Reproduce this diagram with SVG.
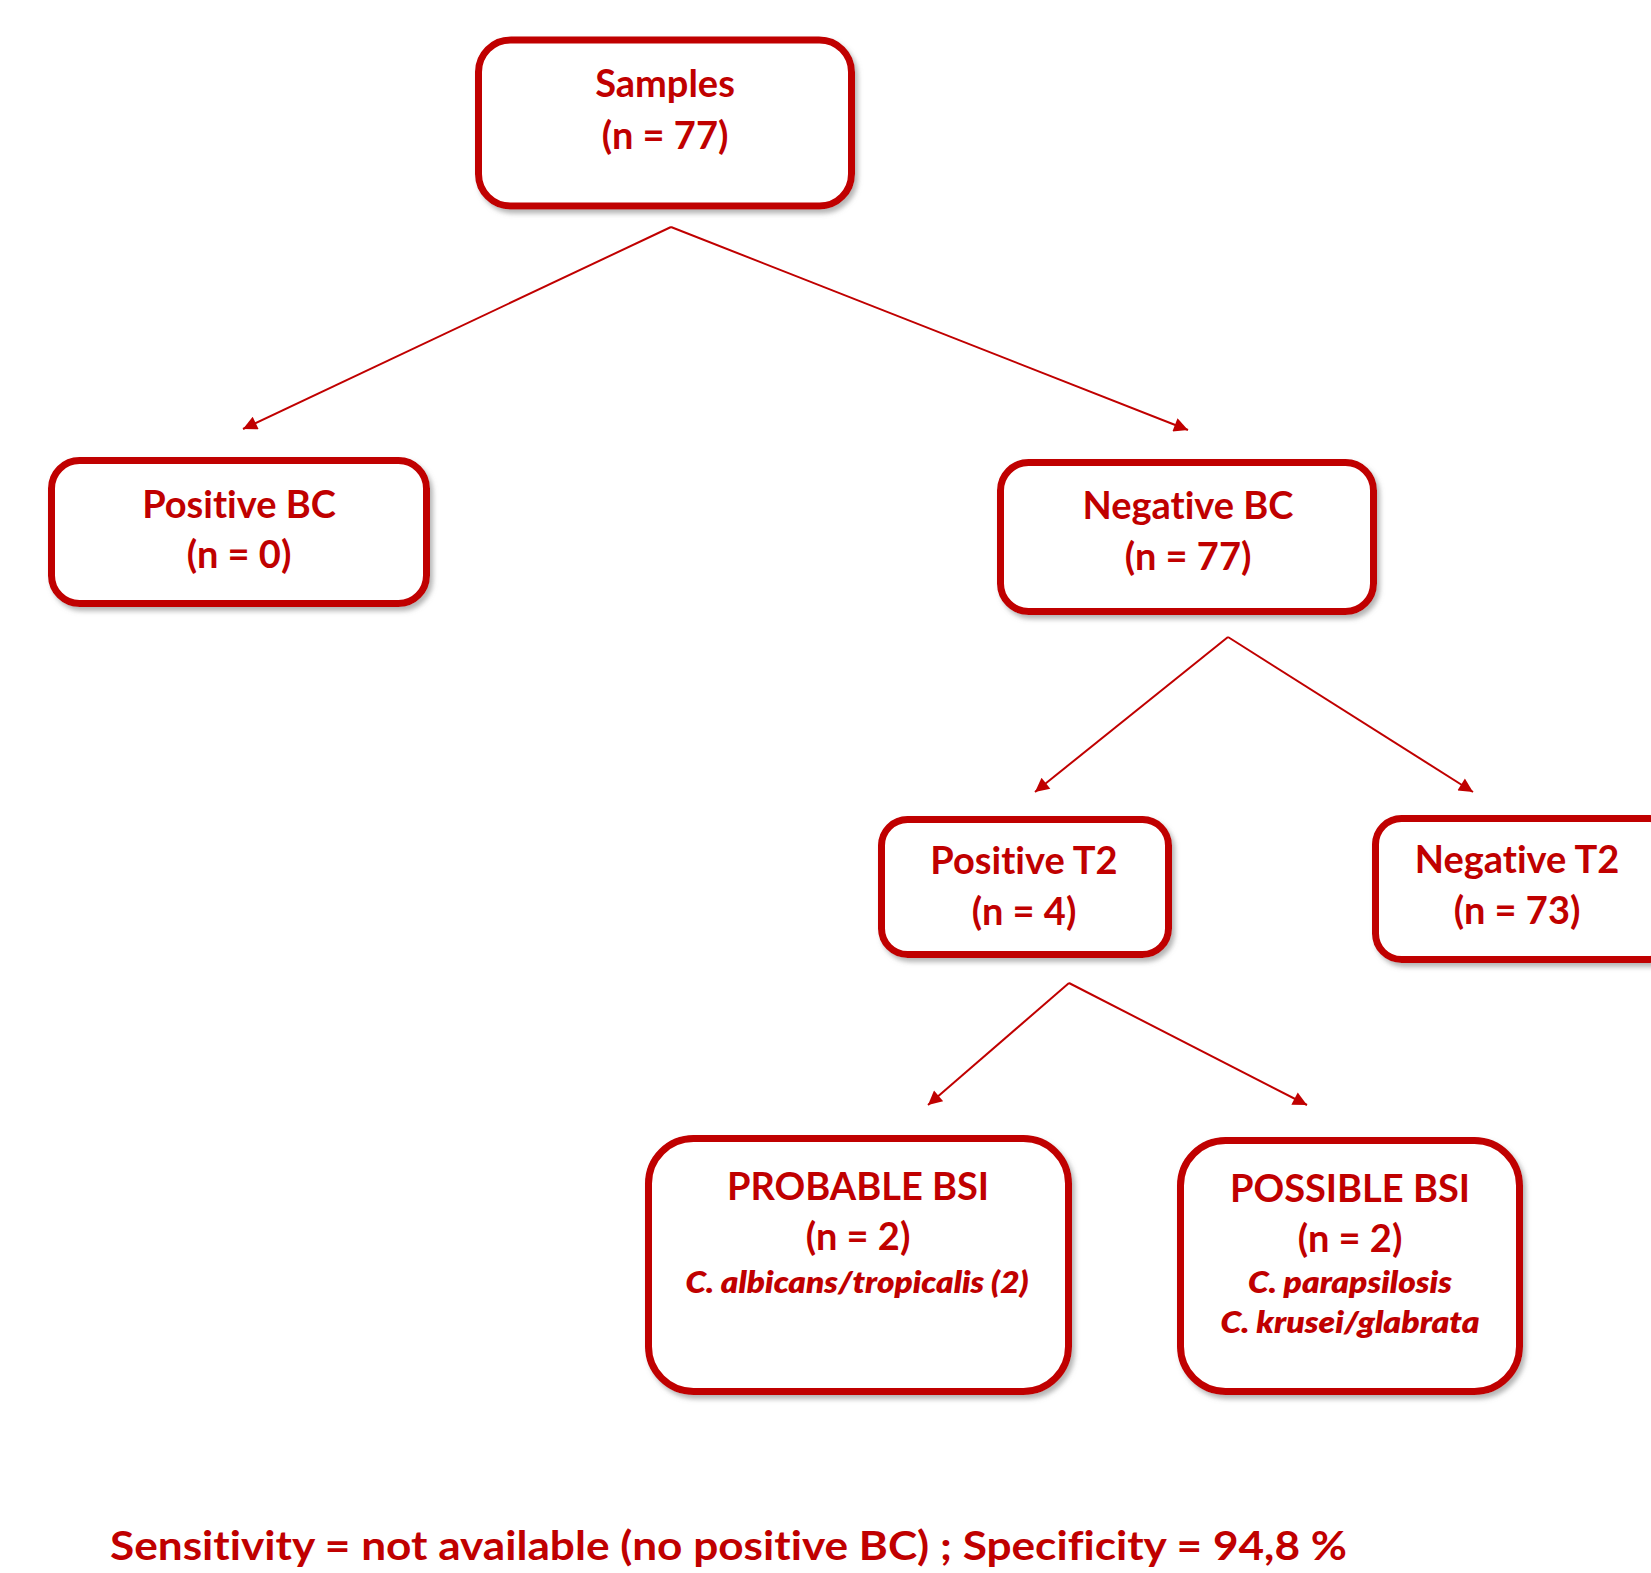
<svg xmlns="http://www.w3.org/2000/svg" width="1651" height="1573" viewBox="0 0 1651 1573">
<defs>
<style>
.box{fill:#fff;stroke:#C00000;stroke-width:7;filter:url(#sh)}
.t{font-family:Lato,"Liberation Sans",sans-serif;font-weight:700;fill:#C00000;text-anchor:middle;font-size:38px;font-variant-ligatures:none}
.i{font-family:Lato,"Liberation Sans",sans-serif;font-weight:800;font-style:italic;fill:#C00000;text-anchor:middle;font-size:30px;font-variant-ligatures:none}
.c{stroke:#C00000;stroke-width:2;fill:none;marker-end:url(#ah)}
</style>
<filter id="sh" x="-10%" y="-10%" width="125%" height="130%">
<feDropShadow dx="3" dy="4" stdDeviation="2.5" flood-color="#777" flood-opacity="0.55"/>
</filter>
<marker id="ah" viewBox="0 0 10 10" refX="10" refY="5" markerWidth="9" markerHeight="7" markerUnits="strokeWidth" orient="auto">
<path d="M0,0 L10,5 L0,10 z" fill="#C00000"/>
</marker>
</defs>
<rect width="1651" height="1573" fill="#fff"/>
<g id="connectors">
<path class="c" d="M671,227 L243,429"/>
<path class="c" d="M671,227 L1188,430"/>
<path class="c" d="M1228,637 L1035,792"/>
<path class="c" d="M1228,637 L1473,792"/>
<path class="c" d="M1069,983 L928,1105"/>
<path class="c" d="M1069,983 L1307,1105"/>
</g>
<g id="samples">
<rect class="box" x="478.5" y="40" width="373" height="166" rx="32"/>
<text class="t" x="665" y="97">Samples</text>
<text class="t" x="665" y="149">(n = 77)</text>
</g>
<g id="positive-bc">
<rect class="box" x="51.5" y="460.5" width="375" height="143" rx="28"/>
<text class="t" x="239" y="518">Positive BC</text>
<text class="t" x="239" y="568">(n = 0)</text>
</g>
<g id="negative-bc">
<rect class="box" x="1000.5" y="462.5" width="373" height="149" rx="28"/>
<text class="t" x="1188" y="519">Negative BC</text>
<text class="t" x="1188" y="570">(n = 77)</text>
</g>
<g id="positive-t2">
<rect class="box" x="881.5" y="819.5" width="287" height="135" rx="26"/>
<text class="t" x="1024" y="874">Positive T2</text>
<text class="t" x="1024" y="925">(n = 4)</text>
</g>
<g id="negative-t2">
<rect class="box" x="1375.5" y="818.5" width="300" height="141" rx="26"/>
<text class="t" x="1517" y="873">Negative T2</text>
<text class="t" x="1517" y="924">(n = 73)</text>
</g>
<g id="probable-bsi">
<rect class="box" x="648.5" y="1138.5" width="420" height="253" rx="45"/>
<text class="t" x="858" y="1200">PROBABLE BSI</text>
<text class="t" x="858" y="1250">(n = 2)</text>
<text class="i" x="857" y="1293" textLength="343" lengthAdjust="spacingAndGlyphs">C. albicans/tropicalis (2)</text>
</g>
<g id="possible-bsi">
<rect class="box" x="1180.5" y="1140.5" width="339" height="251" rx="45"/>
<text class="t" x="1350" y="1202">POSSIBLE BSI</text>
<text class="t" x="1350" y="1252">(n = 2)</text>
<text class="i" x="1350" y="1293" textLength="204" lengthAdjust="spacingAndGlyphs">C. parapsilosis</text>
<text class="i" x="1350" y="1333" textLength="259" lengthAdjust="spacingAndGlyphs">C. krusei/glabrata</text>
</g>
<text class="t" x="110" y="1560" style="text-anchor:start;font-size:40px" textLength="1237" lengthAdjust="spacingAndGlyphs">Sensitivity = not available (no positive BC) ; Specificity = 94,8 %</text>
</svg>
